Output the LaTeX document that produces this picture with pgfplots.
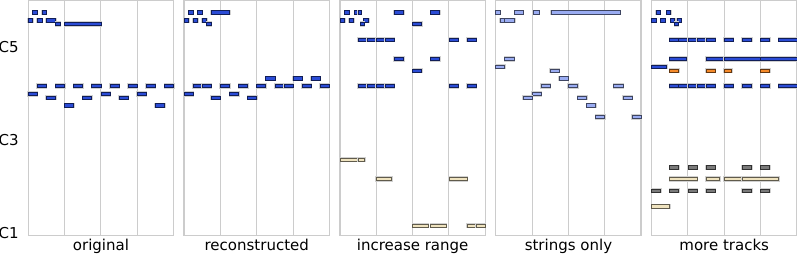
\documentclass[border=0pt]{standalone}
\usepackage{fontspec}
\setmainfont{DejaVu Sans}
\usepackage{pgfplots}
\pgfplotsset{compat=1.18}
\definecolor{nblue}{HTML}{2B4CD6}
\definecolor{nlight}{HTML}{9AACF2}
\definecolor{nbeige}{HTML}{EFE3BF}
\definecolor{norange}{HTML}{F58A2A}
\definecolor{ngray}{HTML}{7A7A7A}
\definecolor{framec}{HTML}{CCCCCC}
\pgfdeclareplotmark{blank}{}
\newcommand\beatlen{9.08125}
\pgfplotsset{
  roll/.style={
    scale only axis, width=145.3bp, height=235.2bp,
    xmin=0, xmax=16, ymin=23.4, ymax=84.1,
    xtick={4,8,12}, xticklabels={,,}, xmajorgrids,
    ytick={24,48,72}, yticklabels={,,},
    xtick style={draw=none}, ytick style={draw=none},
    major tick length=0pt,
    grid style={framec, line width=1bp},
    axis line style={framec, line width=1.3bp},
    xlabel style={at={(axis description cs:0.5,0)}, anchor=base, yshift=-14.3bp, inner sep=0pt},
    font=\fontsize{15bp}{18bp}\selectfont,
    anchor=south west,
  },
  notes/.style={
    only marks, scatter, forget plot, mark=blank,
    visualization depends on={\thisrow{d}\as\dur},
    scatter/@pre marker code/.code={%
      \pgfmathsetlengthmacro\w{\dur*\beatlen bp}%
      \scope
      \draw[draw=black!18, line width=2.0bp] (0bp,-1.7bp) rectangle (\w,1.7bp);
      \draw[fill=#1, draw=#1!40!black, line width=0.8bp] (0bp,-1.7bp) rectangle (\w,1.7bp);
    },
    scatter/@post marker code/.code={\endscope},
  },
}
\begin{document}
\begin{tikzpicture}
\useasboundingbox (0,0) rectangle (797bp,255bp);
% ---------- original
\begin{axis}[roll, at={(28.3bp,19.3bp)}, xlabel={original},
  yticklabels={\mbox{C1},\mbox{C3},\mbox{C5}},
  yticklabel style={anchor=east, inner sep=0pt, xshift=-9.4bp}]
\addplot [notes=nblue] table [x=s, y=p] {
s d p
0.5 0.5 81
1.5 0.5 81
0 0.5 79
1 0.5 79
2 1 79
3 0.5 78
4 4 78
0 1 60
1 1 62
2 1 59
3 1 62
4 1 57
5 1 62
6 1 59
7 1 62
8 1 60
9 1 62
10 1 59
11 1 62
12 1 60
13 1 62
14 1 57
15 1 62
};
\end{axis}
% ---------- reconstructed
\begin{axis}[roll, at={(184.1bp,19.3bp)}, xlabel={reconstructed}]
\addplot [notes=nblue] table [x=s, y=p] {
s d p
0.5 0.5 81
1.5 0.5 81
3 2 81
0 0.5 79
1 0.5 79
2 0.5 79
2.5 0.5 78
9 1 64
12 1 64
14 1 64
1 1 62
2 1 62
4 1 62
6 1 62
8 1 62
10 1 62
11 1 62
13 1 62
15 1 62
0 1 60
5 1 60
3 1 59
7 1 59
};
\end{axis}
% ---------- increase range
\begin{axis}[roll, at={(340bp,19.3bp)}, xlabel={increase range}]
\addplot [notes=nblue] table [x=s, y=p] {
s d p
0.5 0.5 81
1.6 0.4 81
2 0.35 81
6 1 81
10 1 81
0 0.5 79
1 0.5 79
2.6 0.55 79
2.3 0.35 78
8 1 78
2 1 74
3 1 74
4 1 74
5 1 74
12 1 74
14 1 74
6 1 69
10 1 69
8 1 66
2 1 62
3 1 62
4 1 62
5 1 62
12 1 62
14 1 62
};
\addplot [notes=nbeige] table [x=s, y=p] {
s d p
0 2 43
2 0.7 43
4 1.7 38
12 2 38
8 1.7 26
10 1.7 26
14 1 26
15 1 26
};
\end{axis}
% ---------- strings only
\begin{axis}[roll, at={(495.8bp,19.3bp)}, xlabel={strings only}]
\addplot [notes=nlight] table [x=s, y=p] {
s d p
0 0.5 81
2.1 0.9 81
4.1 0.7 81
6.1 7.6 81
0.5 0.5 79
1 1.1 79
1 1 69
0 1 67
6 1 66
7 1 64
5 1 62
8 1 62
13 1 62
4 1 60
3 1 59
9 1 59
14 1 59
10 1 57
11 1 54
15 1 54
};
\end{axis}
% ---------- more tracks
\begin{axis}[roll, at={(651.6bp,19.3bp)}, xlabel={more tracks}]
\addplot [notes=nblue] table [x=s, y=p] {
s d p
0.5 0.45 81
1.65 0.45 81
0 0.5 79
1 0.5 79
2.1 0.45 79
2.8 0.45 79
2.55 0.4 78
2 1 74
3 1 74
4 1 74
5 1 74
6 1 74
8 1 74
10 1 74
12 1 74
14 2 74
2 1.8 69
6 2 69
8 4 69
12 4 69
0 1.65 67
2 1 62
3 1 62
4 1 62
5 1 62
6 1 62
8 1 62
10 1 62
12 1 62
14 2 62
};
\addplot [notes=norange] table [x=s, y=p] {
s d p
2 1 66
6 1 66
8 0.8 66
12 1 66
};
\addplot [notes=ngray] table [x=s, y=p] {
s d p
2 1 41
4 1 41
6 1 41
10 1 41
12 1 41
0 1 35
2 1 35
4 1 35
6 1 35
10 1 35
12 1 35
};
\addplot [notes=nbeige] table [x=s, y=p] {
s d p
2 3 38
6 1.5 38
8 2 38
10 4 38
0 2 31
};
\end{axis}
\end{tikzpicture}
\end{document}
